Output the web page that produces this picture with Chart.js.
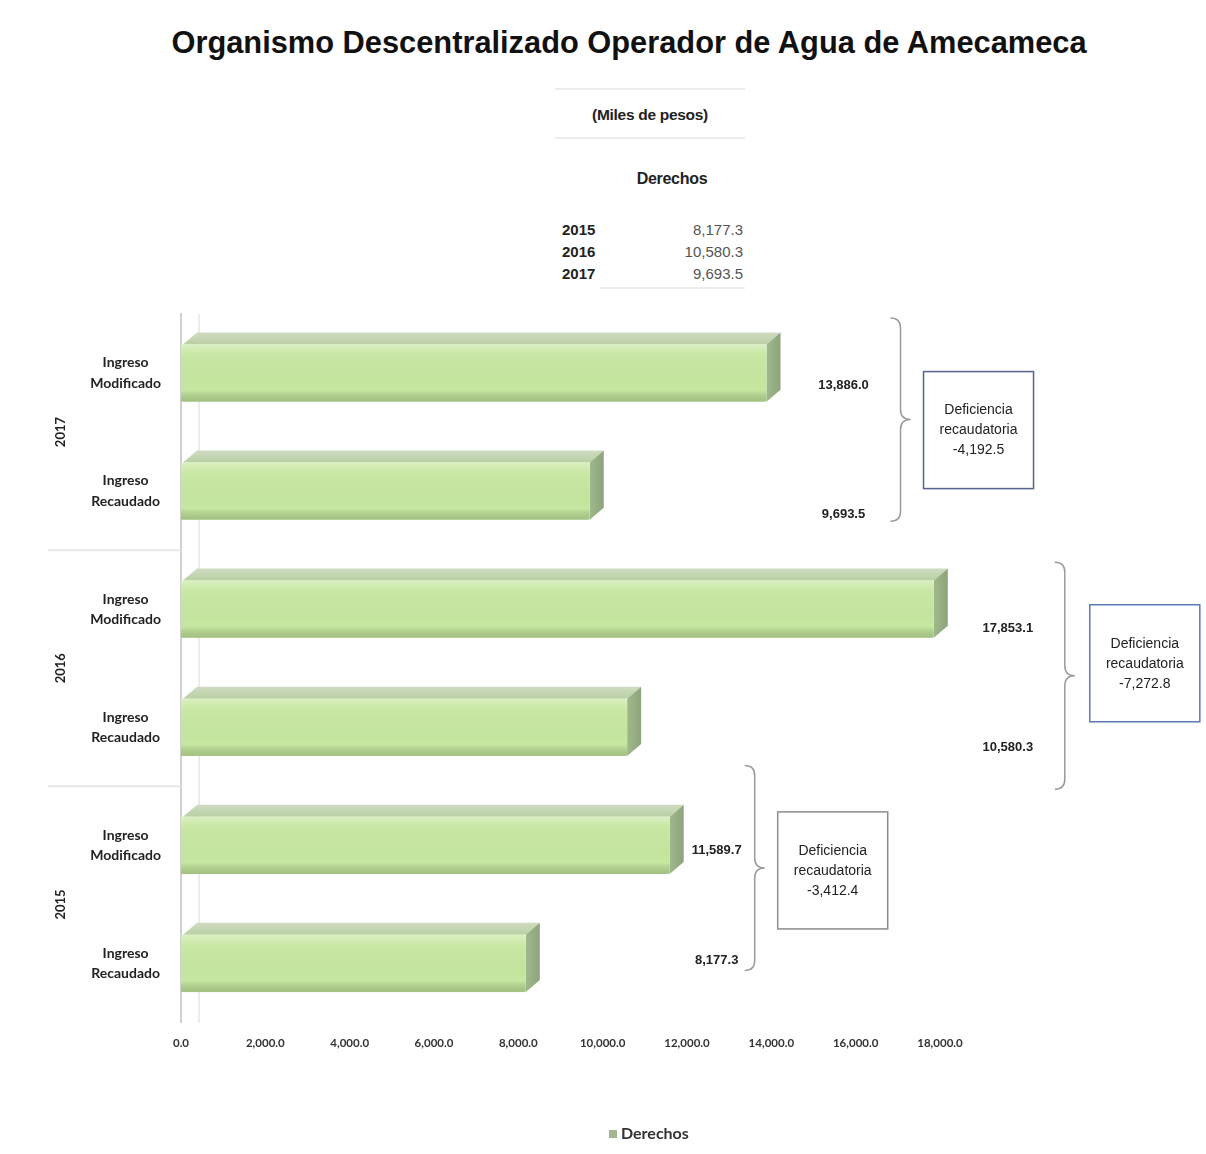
<!DOCTYPE html>
<html lang="es">
<head>
<meta charset="utf-8">
<title>Organismo Descentralizado Operador de Agua de Amecameca</title>
<script src="https://cdn.jsdelivr.net/npm/chart.js@4.4.1/dist/chart.umd.min.js"></script>
<style>
  html, body { margin: 0; padding: 0; background: #fff; }
  #wrap { position: relative; width: 1206px; height: 1154px; overflow: hidden; background: #fff; }
  #chart { position: absolute; left: 0; top: 0; }
  .title { position: absolute; left: 0; width: 1258px; top: 25px; text-align: center;
           font: bold 30.8px 'Liberation Sans', Arial, sans-serif; color: #111; white-space: nowrap; }
  .narrow { font-family: 'Liberation Sans Narrow', 'Arial Narrow', 'Liberation Sans', sans-serif; color: #222; }
  .sub { position: absolute; left: 550px; width: 200px; top: 106px; text-align: center; font-size: 15.5px; font-weight: bold; letter-spacing: -0.3px; }
  .hdr { position: absolute; left: 572px; width: 200px; top: 170px; text-align: center; font-size: 16px; font-weight: bold; letter-spacing: -0.3px; }
  .rule { position: absolute; height: 2px; background: #ececec; }
  #tabla { position: absolute; left: 562px; top: 219px; width: 181px; font-size: 15px; line-height: 22px; }
  #tabla .row { display: flex; justify-content: space-between; }
  #tabla .yr { font-weight: bold; color: #222; }
  #tabla .val { color: #555; }
</style>
</head>
<body>
<div id="wrap">
  <div class="title">Organismo Descentralizado Operador de Agua de Amecameca</div>
  <div class="rule" style="left:555px; top:88px; width:190px;"></div>
  <div class="sub narrow">(Miles de pesos)</div>
  <div class="rule" style="left:555px; top:137px; width:190px;"></div>
  <div class="hdr narrow">Derechos</div>
  <div id="tabla" class="narrow"></div>
  <div class="rule" style="left:600px; top:287px; width:145px;"></div>
  <canvas id="chart" width="1206" height="1154"></canvas>
</div>
<script>
// Datos (miles de pesos)
const years = ['2015', '2016', '2017'];
const ingresoRecaudado = [8177.3, 10580.3, 9693.5];
const ingresoModificado = [11589.7, 17853.1, 13886.0];
const conceptos = [['Ingreso', 'Modificado'], ['Ingreso', 'Recaudado']];
const xTicks = [0, 2000, 4000, 6000, 8000, 10000, 12000, 14000, 16000, 18000];
const seriesName = 'Derechos';
const deficienciaLabel = ['Deficiencia', 'recaudatoria'];

function fmt(v) {
    return v.toLocaleString('en-US', { minimumFractionDigits: 1, maximumFractionDigits: 1 });
}

// tabla de arriba
const tabla = document.getElementById('tabla');
years.forEach((y, i) => {
    const row = document.createElement('div');
    row.className = 'row';
    row.innerHTML = '<span class="yr">' + y + '</span><span class="val">' + fmt(ingresoRecaudado[i]) + '</span>';
    tabla.appendChild(row);
});

// categorias de arriba hacia abajo: 2017, 2016, 2015
const order = [2, 1, 0];
const labels = [];
const values = [];
order.forEach(i => {
    labels.push(conceptos[0]);
    values.push(ingresoModificado[i]);
    labels.push(conceptos[1]);
    values.push(ingresoRecaudado[i]);
});

const NARROW = "'Liberation Sans Narrow', 'Arial Narrow', 'Liberation Sans', sans-serif";
const LATO = "Lato, 'Liberation Sans', sans-serif";
const DEPTH_X = 14, DEPTH_Y = 12;
const LEGEND_COLOR = '#a4b596';

// estilos de las anotaciones por grupo (2017, 2016, 2015)
const annot = {
    labelDx: [77, 74, 47],
    braceDx: [134, 131, 85],
    boxDx: [157, 156, 108],
    boxDy: [-2, -5, -34],
    braceTop: [-55, -47, -80],
    braceBottom: [30, 62, 7],
    labelDy: [12, 23, 19, 20, 5, -3],
    boxColor: ['#56648f', '#5d7cb3', '#8d8d8d']
};

function drawBrace(ctx, x, top, bottom, w) {
    const mid = (top + bottom) / 2;
    ctx.beginPath();
    ctx.moveTo(x - w, top);
    ctx.quadraticCurveTo(x, top, x, top + w);
    ctx.lineTo(x, mid - w);
    ctx.quadraticCurveTo(x, mid, x + w, mid);
    ctx.quadraticCurveTo(x, mid, x, mid + w);
    ctx.lineTo(x, bottom - w);
    ctx.quadraticCurveTo(x, bottom, x - w, bottom);
    ctx.stroke();
}

const bar3d = {
    id: 'bar3d',
    beforeDatasetsDraw(chart) {
        const ctx = chart.ctx;
        const area = chart.chartArea;
        const x0 = chart.scales.x.getPixelForValue(0);
        ctx.save();
        // pared del fondo
        ctx.strokeStyle = '#ececec';
        ctx.lineWidth = 2;
        ctx.beginPath();
        ctx.moveTo(x0 + DEPTH_X + 4, area.top);
        ctx.lineTo(x0 + DEPTH_X + 4, area.bottom);
        ctx.stroke();
        chart.getDatasetMeta(0).data.forEach(el => {
            const p = el.getProps(['x', 'y', 'base', 'height'], true);
            const top = p.y - p.height / 2;
            const bottom = p.y + p.height / 2;
            // cara superior
            const gTop = ctx.createLinearGradient(0, top - DEPTH_Y, 0, top);
            gTop.addColorStop(0, '#cfdcc2');
            gTop.addColorStop(1, '#b9cfa3');
            ctx.fillStyle = gTop;
            ctx.beginPath();
            ctx.moveTo(p.base + 2, top);
            ctx.lineTo(p.base + 2 + DEPTH_X, top - DEPTH_Y);
            ctx.lineTo(p.x + DEPTH_X, top - DEPTH_Y);
            ctx.lineTo(p.x, top);
            ctx.closePath();
            ctx.fill();
            // cara lateral
            const gSide = ctx.createLinearGradient(p.x, 0, p.x + DEPTH_X, 0);
            gSide.addColorStop(0, '#9fb98a');
            gSide.addColorStop(1, '#8ea37c');
            ctx.fillStyle = gSide;
            ctx.beginPath();
            ctx.moveTo(p.x, top);
            ctx.lineTo(p.x + DEPTH_X, top - DEPTH_Y);
            ctx.lineTo(p.x + DEPTH_X, bottom - DEPTH_Y);
            ctx.lineTo(p.x, bottom);
            ctx.closePath();
            ctx.fill();
        });
        ctx.restore();
    },
    afterDatasetsDraw(chart) {
        const ctx = chart.ctx;
        ctx.save();
        chart.getDatasetMeta(0).data.forEach(el => {
            const p = el.getProps(['x', 'y', 'base', 'height'], true);
            const top = p.y - p.height / 2;
            const g = ctx.createLinearGradient(0, top, 0, top + p.height);
            g.addColorStop(0, 'rgba(255,255,255,0.35)');
            g.addColorStop(0.18, 'rgba(255,255,255,0.05)');
            g.addColorStop(0.8, 'rgba(0,0,0,0)');
            g.addColorStop(1, 'rgba(70,100,50,0.28)');
            ctx.fillStyle = g;
            ctx.fillRect(p.base, top, p.x - p.base, p.height);
        });
        ctx.restore();
    }
};

const extras = {
    id: 'extras',
    afterDraw(chart) {
        const ctx = chart.ctx;
        const xs = chart.scales.x;
        const ys = chart.scales.y;
        const area = chart.chartArea;
        ctx.save();

        // separadores y etiquetas de año
        ctx.strokeStyle = '#e8e8e8';
        ctx.lineWidth = 2;
        [1, 3].forEach(k => {
            const yb = (ys.getPixelForValue(k) + ys.getPixelForValue(k + 1)) / 2;
            ctx.beginPath();
            ctx.moveTo(48, yb);
            ctx.lineTo(area.left, yb);
            ctx.stroke();
        });

        order.forEach((yi, g) => {
            const yMod = ys.getPixelForValue(g * 2);
            const yRec = ys.getPixelForValue(g * 2 + 1);
            const yc = (yMod + yRec) / 2;

            ctx.save();
            ctx.translate(61, yc);
            ctx.rotate(-Math.PI / 2);
            ctx.fillStyle = '#222';
            ctx.font = 'bold 13px ' + LATO;
            ctx.textAlign = 'center';
            ctx.textBaseline = 'middle';
            ctx.fillText(years[yi], 0, 0);
            ctx.restore();

            const vMax = Math.max(ingresoModificado[yi], ingresoRecaudado[yi]);
            const xMax = xs.getPixelForValue(vMax);

            // valores
            ctx.fillStyle = '#222';
            ctx.font = 'bold 13px ' + NARROW;
            ctx.textAlign = 'center';
            ctx.textBaseline = 'middle';
            ctx.fillText(fmt(ingresoModificado[yi]), xMax + annot.labelDx[g], yMod + annot.labelDy[g * 2]);
            ctx.fillText(fmt(ingresoRecaudado[yi]), xMax + annot.labelDx[g], yRec + annot.labelDy[g * 2 + 1]);

            // llave
            ctx.strokeStyle = '#9a9a9a';
            ctx.lineWidth = 1.5;
            drawBrace(ctx, xMax + annot.braceDx[g], yMod + annot.braceTop[g], yRec + annot.braceBottom[g], 10);

            // recuadro
            const bw = 110, bh = 117;
            const bx = xMax + annot.boxDx[g];
            const by = yc + annot.boxDy[g] - bh / 2;
            ctx.fillStyle = '#fff';
            ctx.shadowColor = 'rgba(0,0,0,0.12)';
            ctx.shadowBlur = 3;
            ctx.fillRect(bx, by, bw, bh);
            ctx.shadowBlur = 0;
            ctx.shadowColor = 'transparent';
            ctx.strokeStyle = annot.boxColor[g];
            ctx.lineWidth = 1.5;
            ctx.strokeRect(bx, by, bw, bh);

            const def = ingresoRecaudado[yi] - ingresoModificado[yi];
            ctx.fillStyle = '#222';
            ctx.font = '14px ' + NARROW;
            const lines = deficienciaLabel.concat([fmt(def)]);
            lines.forEach((t, k) => {
                ctx.fillText(t, bx + bw / 2, by + 39 + k * 20);
            });
        });

        // leyenda
        const name = chart.data.datasets[0].label;
        ctx.fillStyle = LEGEND_COLOR;
        ctx.fillRect(609, 1130, 8, 8);
        ctx.fillStyle = '#333';
        ctx.font = 'bold 16px ' + LATO;
        ctx.textAlign = 'left';
        ctx.textBaseline = 'middle';
        ctx.fillText(name, 621, 1134);

        ctx.restore();
    }
};

const canvas = document.getElementById('chart');
const chart = new Chart(canvas.getContext('2d'), {
    type: 'bar',
    data: {
        labels: labels,
        datasets: [{
            label: seriesName,
            data: values,
            backgroundColor: '#c6e7a0',
            borderWidth: 0,
            borderRadius: 3,
            borderSkipped: false,
            barPercentage: 0.485,
            categoryPercentage: 1
        }]
    },
    options: {
        indexAxis: 'y',
        responsive: false,
        animation: false,
        layout: { padding: { top: 314, left: 0, right: 266, bottom: 0 } },
        plugins: {
            title: { display: false },
            tooltip: { enabled: false },
            legend: { display: false }
        },
        scales: {
            x: {
                min: 0,
                max: xTicks[xTicks.length - 1],
                afterBuildTicks(axis) {
                    axis.ticks = xTicks.map(v => ({ value: v }));
                },
                afterFit(axis) {
                    axis.height = 1154 - 1022.5;
                },
                grid: { display: false, drawTicks: false },
                border: { display: false },
                ticks: {
                    padding: 14,
                    color: '#333',
                    font: { family: LATO, size: 11.5, weight: 'bold' },
                    maxRotation: 0,
                    callback: v => fmt(v)
                }
            },
            y: {
                afterFit(axis) { axis.width = 181; },
                grid: { display: true, color: 'rgba(0,0,0,0)', drawTicks: false },
                border: { display: true, color: '#d0d0d0', width: 2 },
                ticks: {
                    crossAlign: 'center',
                    padding: 20,
                    color: '#222',
                    font: { family: LATO, size: 14, weight: 'bold', lineHeight: 1.45 }
                }
            }
        }
    },
    plugins: [bar3d, extras]
});
</script>
</body>
</html>
